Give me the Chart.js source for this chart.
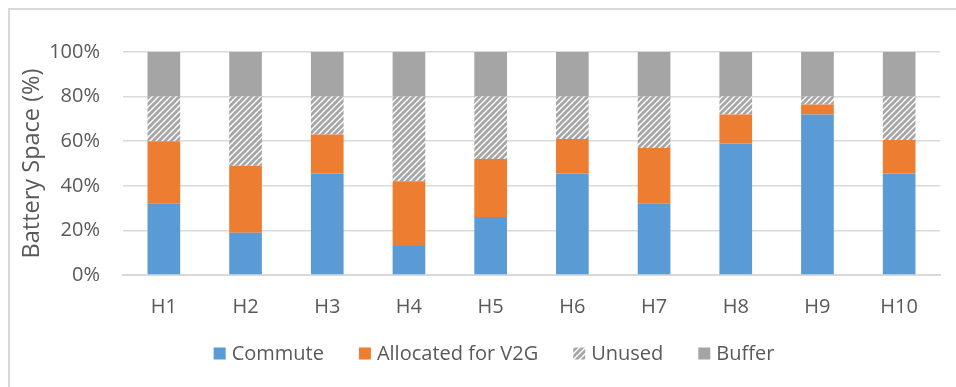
<!DOCTYPE html>
<html>
<head>
<meta charset="utf-8">
<script src="https://cdn.jsdelivr.net/npm/chart.js@4.4.1/dist/chart.umd.min.js"></script>
<style>
  html, body { margin: 0; padding: 0; background: #ffffff; }
  #wrap { width: 956px; height: 387px; position: relative; }
  canvas { display: block; }
</style>
</head>
<body>
<div id="wrap"><canvas id="chart" width="956" height="387"></canvas></div>
<script>
// Battery space split per household (percent of capacity)
const categories   = ['H1', 'H2', 'H3', 'H4', 'H5', 'H6', 'H7', 'H8', 'H9', 'H10'];
const commute      = [32, 19, 45.5, 13, 26, 45.5, 32, 59, 72, 45.5];
const allocatedV2G = [28, 30, 17.5, 29, 26, 15.5, 25, 13, 4.5, 15];
const unused       = [20, 31, 17, 38, 28, 19, 23, 8, 3.5, 19.5];
const buffer       = [20, 20, 20, 20, 20, 20, 20, 20, 20, 20];
const yTicks       = [0, 20, 40, 60, 80, 100];
const seriesNames  = ['Commute', 'Allocated for V2G', 'Unused', 'Buffer'];

const FONT = "'Open Sans', 'Noto Sans', sans-serif";
const TEXT = '#595959';
const GRID = '#d9d9d9';

// diagonal hatch used for the "Unused" share
function makeHatch(ctx) {
  const s = 6;
  const tile = document.createElement('canvas');
  tile.width = s; tile.height = s;
  const g = tile.getContext('2d');
  g.fillStyle = '#ffffff';
  g.fillRect(0, 0, s, s);
  g.strokeStyle = '#a5a5a5';
  g.lineWidth = 2.8;
  g.beginPath();
  [0, s, 2 * s].forEach(c => { g.moveTo(-2, c + 2); g.lineTo(s + 2, c - s - 2); });
  g.stroke();
  return ctx.createPattern(tile, 'repeat');
}

const canvas = document.getElementById('chart');
const ctx = canvas.getContext('2d');
const hatch = makeHatch(ctx);

// white background plus the frame on the left and top edges
const framePlugin = {
  id: 'frame',
  beforeDraw(chart) {
    const c = chart.ctx;
    c.save();
    c.fillStyle = '#ffffff';
    c.fillRect(0, 0, chart.width, chart.height);
    c.strokeStyle = GRID;
    c.lineWidth = 2;
    c.beginPath();
    c.moveTo(9, chart.height);
    c.lineTo(9, 9);
    c.lineTo(chart.width, 9);
    c.stroke();
    c.restore();
  }
};

// legend row under the axis labels
const legendPlugin = {
  id: 'bottomLegend',
  afterDraw(chart) {
    const c = chart.ctx;
    const box = 12, gapText = 6, gapItem = 35, centerX = 494, centerY = 353.5;
    c.save();
    c.font = '20px ' + FONT;
    c.textBaseline = 'middle';
    c.textAlign = 'left';
    const items = chart.data.datasets.map(ds => ({
      label: ds.label, fill: ds.backgroundColor, w: c.measureText(ds.label).width
    }));
    const total = items.reduce((a, it) => a + box + gapText + it.w, 0) + gapItem * (items.length - 1);
    let x = centerX - total / 2;
    items.forEach(it => {
      c.fillStyle = it.fill;
      c.fillRect(x, centerY - box / 2, box, box);
      c.fillStyle = TEXT;
      c.fillText(it.label, x + box + gapText, centerY + 1);
      x += box + gapText + it.w + gapItem;
    });
    c.restore();
  }
};

new Chart(ctx, {
  type: 'bar',
  data: {
    labels: categories,
    datasets: [
      { label: seriesNames[0], data: commute,      backgroundColor: '#5B9BD5' },
      { label: seriesNames[1], data: allocatedV2G, backgroundColor: '#ED7D31' },
      { label: seriesNames[2], data: unused,       backgroundColor: hatch },
      { label: seriesNames[3], data: buffer,       backgroundColor: '#A5A5A5' }
    ]
  },
  options: {
    responsive: false,
    animation: false,
    devicePixelRatio: 1,
    layout: { padding: { top: 52, right: 16, bottom: 0, left: 0 } },
    datasets: { bar: { categoryPercentage: 1, barPercentage: 0.4, borderWidth: 0 } },
    plugins: { legend: { display: false }, tooltip: { enabled: false } },
    scales: {
      x: {
        stacked: true,
        grid: { display: false, drawTicks: false },
        border: { display: true, color: GRID, width: 2 },
        ticks: { color: TEXT, font: { family: FONT, size: 20 }, padding: 20 },
        afterFit(scale) { scale.height = 112; }
      },
      y: {
        stacked: true,
        min: 0,
        max: 100,
        afterBuildTicks(scale) { scale.ticks = yTicks.map(v => ({ value: v })); },
        grid: { color: GRID, lineWidth: 1.5, drawTicks: false },
        border: { display: false },
        ticks: {
          color: TEXT,
          font: { family: FONT, size: 20 },
          padding: 23,
          callback: v => v + '%'
        },
        title: {
          display: true,
          text: 'Battery Space (%)',
          color: TEXT,
          font: { family: FONT, size: 23.5 },
          padding: { top: 18, bottom: 0 }
        },
        afterFit(scale) { scale.width = 123; }
      }
    }
  },
  plugins: [framePlugin, legendPlugin]
});
</script>
</body>
</html>
